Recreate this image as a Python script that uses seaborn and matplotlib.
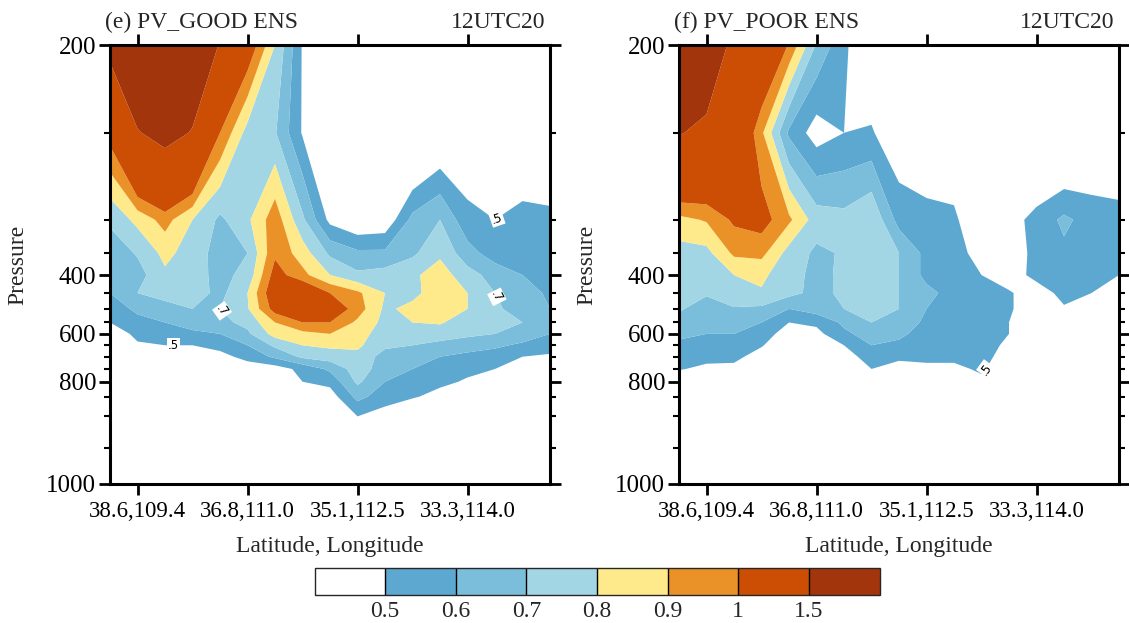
import numpy as np
import matplotlib
matplotlib.use("Agg")
import matplotlib.pyplot as plt
import matplotlib.ticker as mticker
from matplotlib.colors import ListedColormap, BoundaryNorm
from matplotlib.cm import ScalarMappable
import seaborn as sns

sns.set_theme(style="ticks")
plt.rcParams["font.family"] = ["Liberation Serif", "DejaVu Serif"]

# ---------------- data ----------------
pressure = [200, 250, 300, 350, 400, 450, 500, 550, 600, 650, 700, 750, 800, 850, 900, 950, 1000]
section_index = list(range(17))
tick_index = [1, 5, 9, 13]
tick_labels = ["38.6,109.4", "36.8,111.0", "35.1,112.5", "33.3,114.0"]
levels = [0.5, 0.6, 0.7, 0.8, 0.9, 1.0, 1.5]
level_labels = ["0.5", "0.6", "0.7", "0.8", "0.9", "1", "1.5"]
fill_colors = ["#ffffff", "#5ca8d0", "#7abedb", "#a3d6e4", "#feea8a", "#ea9228", "#cb4e04", "#a3350c"]

pv_good = [
    [1.61, 1.90, 1.90, 1.80, 1.48, 1.10, 0.80, 0.49, 0.30, 0.30, 0.30, 0.30, 0.30, 0.30, 0.30, 0.30, 0.30],
    [1.05, 1.48, 1.62, 1.48, 1.00, 0.76, 0.71, 0.49, 0.30, 0.30, 0.30, 0.25, 0.36, 0.40, 0.30, 0.39, 0.34],
    [0.72, 0.83, 0.94, 0.80, 0.68, 0.78, 0.96, 0.72, 0.47, 0.40, 0.42, 0.63, 0.70, 0.53, 0.50, 0.53, 0.53],
    [0.64, 0.71, 0.83, 0.75, 0.66, 0.70, 0.98, 0.85, 0.68, 0.62, 0.62, 0.68, 0.78, 0.64, 0.55, 0.58, 0.56],
    [0.62, 0.66, 0.78, 0.74, 0.67, 0.73, 1.05, 0.93, 0.80, 0.72, 0.74, 0.78, 0.85, 0.74, 0.66, 0.60, 0.57],
    [0.60, 0.70, 0.74, 0.75, 0.67, 0.80, 1.10, 1.15, 1.00, 0.92, 0.80, 0.77, 0.86, 0.80, 0.70, 0.65, 0.58],
    [0.55, 0.62, 0.66, 0.70, 0.70, 0.79, 1.05, 1.20, 1.10, 0.95, 0.78, 0.83, 0.86, 0.80, 0.72, 0.65, 0.60],
    [0.50, 0.57, 0.60, 0.64, 0.67, 0.73, 0.90, 1.00, 1.00, 0.88, 0.77, 0.80, 0.81, 0.75, 0.72, 0.70, 0.64],
    [0.45, 0.52, 0.56, 0.58, 0.60, 0.68, 0.84, 0.87, 0.90, 0.85, 0.74, 0.75, 0.75, 0.72, 0.70, 0.66, 0.60],
    [0.40, 0.49, 0.50, 0.50, 0.53, 0.60, 0.72, 0.80, 0.82, 0.82, 0.72, 0.70, 0.67, 0.65, 0.62, 0.58, 0.56],
    [0.35, 0.40, 0.45, 0.46, 0.47, 0.53, 0.62, 0.72, 0.75, 0.77, 0.66, 0.64, 0.60, 0.57, 0.55, 0.50, 0.48],
    [0.30, 0.35, 0.38, 0.40, 0.40, 0.45, 0.45, 0.53, 0.62, 0.75, 0.65, 0.60, 0.55, 0.52, 0.50, 0.45, 0.42],
    [0.30, 0.30, 0.30, 0.30, 0.30, 0.35, 0.40, 0.50, 0.53, 0.72, 0.60, 0.55, 0.52, 0.49, 0.45, 0.40, 0.40],
    [0.30, 0.30, 0.30, 0.30, 0.30, 0.30, 0.30, 0.40, 0.45, 0.63, 0.55, 0.51, 0.47, 0.42, 0.40, 0.35, 0.35],
    [0.30, 0.30, 0.30, 0.30, 0.30, 0.30, 0.30, 0.30, 0.35, 0.50, 0.45, 0.40, 0.35, 0.30, 0.30, 0.30, 0.30],
    [0.30, 0.30, 0.30, 0.30, 0.30, 0.30, 0.30, 0.30, 0.30, 0.30, 0.30, 0.30, 0.30, 0.30, 0.30, 0.30, 0.30],
    [0.30, 0.30, 0.30, 0.30, 0.30, 0.30, 0.30, 0.30, 0.30, 0.30, 0.30, 0.30, 0.30, 0.30, 0.30, 0.30, 0.30],
]

pv_poor = [
    [1.90, 1.80, 1.40, 1.20, 0.99, 0.69, 0.52, 0.40, 0.30, 0.30, 0.30, 0.30, 0.30, 0.30, 0.30, 0.30, 0.30],
    [1.52, 1.42, 1.20, 0.92, 0.58, 0.45, 0.50, 0.51, 0.42, 0.35, 0.40, 0.30, 0.30, 0.27, 0.28, 0.35, 0.33],
    [0.87, 0.91, 1.02, 1.05, 0.92, 0.75, 0.73, 0.79, 0.56, 0.55, 0.52, 0.40, 0.45, 0.54, 0.62, 0.56, 0.55],
    [0.76, 0.77, 0.92, 0.93, 0.76, 0.68, 0.71, 0.77, 0.70, 0.57, 0.55, 0.45, 0.40, 0.55, 0.58, 0.56, 0.55],
    [0.74, 0.75, 0.80, 0.82, 0.74, 0.67, 0.72, 0.77, 0.70, 0.57, 0.55, 0.50, 0.45, 0.53, 0.56, 0.56, 0.50],
    [0.72, 0.71, 0.78, 0.79, 0.73, 0.67, 0.72, 0.75, 0.70, 0.63, 0.56, 0.55, 0.51, 0.45, 0.53, 0.50, 0.45],
    [0.71, 0.66, 0.69, 0.68, 0.60, 0.65, 0.70, 0.72, 0.70, 0.60, 0.56, 0.55, 0.52, 0.40, 0.49, 0.45, 0.40],
    [0.67, 0.64, 0.63, 0.60, 0.50, 0.52, 0.62, 0.70, 0.66, 0.58, 0.55, 0.55, 0.50, 0.35, 0.35, 0.35, 0.35],
    [0.63, 0.60, 0.60, 0.55, 0.45, 0.47, 0.58, 0.64, 0.62, 0.56, 0.55, 0.55, 0.50, 0.30, 0.30, 0.30, 0.30],
    [0.57, 0.56, 0.58, 0.51, 0.40, 0.40, 0.50, 0.60, 0.58, 0.55, 0.55, 0.54, 0.48, 0.30, 0.30, 0.30, 0.30],
    [0.55, 0.54, 0.53, 0.45, 0.35, 0.35, 0.45, 0.55, 0.52, 0.52, 0.53, 0.53, 0.46, 0.30, 0.30, 0.30, 0.30],
    [0.51, 0.47, 0.47, 0.40, 0.30, 0.30, 0.40, 0.50, 0.46, 0.48, 0.47, 0.52, 0.40, 0.30, 0.30, 0.30, 0.30],
    [0.40, 0.40, 0.40, 0.35, 0.30, 0.30, 0.35, 0.42, 0.40, 0.42, 0.42, 0.47, 0.35, 0.30, 0.30, 0.30, 0.30],
    [0.30, 0.30, 0.30, 0.30, 0.30, 0.30, 0.30, 0.30, 0.30, 0.30, 0.30, 0.30, 0.30, 0.30, 0.30, 0.30, 0.30],
    [0.30, 0.30, 0.30, 0.30, 0.30, 0.30, 0.30, 0.30, 0.30, 0.30, 0.30, 0.30, 0.30, 0.30, 0.30, 0.30, 0.30],
    [0.30, 0.30, 0.30, 0.30, 0.30, 0.30, 0.30, 0.30, 0.30, 0.30, 0.30, 0.30, 0.30, 0.30, 0.30, 0.30, 0.30],
    [0.30, 0.30, 0.30, 0.30, 0.30, 0.30, 0.30, 0.30, 0.30, 0.30, 0.30, 0.30, 0.30, 0.30, 0.30, 0.30, 0.30],
]

panel_titles = ["(e) PV_GOOD ENS", "(f) PV_POOR ENS"]
time_label = "12UTC20"
# contour-line label anchors (section index, pressure)
label_spots = [
    [(2.3, 645), (4.0, 515), (14.1, 300), (13.7, 478)],
    [(11.35, 762)],
]

# ---------------- vertical axis scale (pressure -> axis fraction) ----------------
axis_p = np.array([200, 250, 300, 350, 400, 450, 500, 550, 600, 650, 700, 750, 800, 850, 900, 950, 1000], float)
axis_frac = np.array([0.0, 0.200, 0.398, 0.474, 0.524, 0.565, 0.601, 0.632, 0.658, 0.684,
                      0.710, 0.738, 0.767, 0.801, 0.846, 0.917, 1.0])


def fwd(p):
    return np.interp(p, axis_p, axis_frac)


def inv(f):
    return np.interp(f, axis_frac, axis_p)


W, H = 1129, 623
fig = plt.figure(figsize=(W / 100, H / 100), dpi=100)
fig.patch.set_facecolor("white")

ax_left_px = [110, 679]
ax_w_px = 440
ax_top_px, ax_bot_px = 45, 484

X, P = np.meshgrid(np.array(section_index, float), np.array(pressure, float))

for k, (data, title) in enumerate(zip([pv_good, pv_poor], panel_titles)):
    ax = fig.add_axes([ax_left_px[k] / W, (H - ax_bot_px) / H, ax_w_px / W,
                       (ax_bot_px - ax_top_px) / H])
    Z = np.array(data, float)
    ax.set_yscale("function", functions=(fwd, inv))
    ax.contourf(X, P, Z, levels=levels, colors=fill_colors, extend="both",
                antialiased=True)
    cs = ax.contour(X, P, Z, levels=[0.5, 0.7], colors="black", linewidths=0,
                    alpha=0.0)
    ax.set_xlim(0, 16)
    ax.set_ylim(1000, 200)

    try:
        txts = ax.clabel(cs, manual=label_spots[k], inline=False,
                         fmt=lambda v: ("%.1f" % v).lstrip("0"), fontsize=8.5)
        for t in txts:
            t.set_family("DejaVu Sans")
            t.set_color("black")
            t.set_alpha(1.0)
            t.set_bbox(dict(facecolor="white", edgecolor="none", pad=0.8))
    except Exception:
        pass

    ax.set_xticks(tick_index)
    ax.set_xticklabels(tick_labels)
    ax.yaxis.set_major_locator(mticker.FixedLocator([200, 400, 600, 800, 1000]))
    ax.yaxis.set_minor_locator(mticker.FixedLocator(
        [250, 300, 350, 450, 500, 550, 650, 700, 750, 850, 900, 950]))
    ax.yaxis.set_major_formatter(mticker.FuncFormatter(lambda v, pos: "%d" % round(v)))
    ax.yaxis.set_minor_formatter(mticker.NullFormatter())
    ax.xaxis.set_minor_locator(mticker.NullLocator())

    ax.tick_params(axis="both", which="both", direction="out", top=True, right=True,
                   labeltop=False, labelright=False, colors="black")
    ax.tick_params(axis="x", which="major", length=8, width=2, labelsize=16.5, pad=4)
    ax.tick_params(axis="y", which="major", length=8, width=2, labelsize=18, pad=2)
    ax.tick_params(axis="y", which="minor", length=4, width=1.5)
    for sp in ax.spines.values():
        sp.set_linewidth(2.2)
        sp.set_color("black")
        sp.set_visible(True)

    ax.set_xlabel("Latitude, Longitude", fontsize=17)
    ax.xaxis.set_label_coords(0.5, -0.118)
    ax.set_ylabel("Pressure", fontsize=17)
    ax.yaxis.set_label_coords(-0.185, 0.5)

    ax.text(-0.012, 1.038, title, transform=ax.transAxes, fontsize=17,
            ha="left", va="baseline")
    ax.text(0.99, 1.038, time_label, transform=ax.transAxes, fontsize=17,
            ha="right", va="baseline")

# ---------------- label bar ----------------
cax = fig.add_axes([314.5 / W, (H - 595) / H, 565 / W, 27 / H])
bounds = [0.4] + levels + [2.0]
cmap = ListedColormap(fill_colors)
norm = BoundaryNorm(bounds, cmap.N)
cb = fig.colorbar(ScalarMappable(norm=norm, cmap=cmap), cax=cax, orientation="horizontal",
                  spacing="uniform", drawedges=True, boundaries=bounds)
cb.set_ticks(levels)
cb.set_ticklabels(level_labels)
cb.ax.minorticks_off()
cb.ax.tick_params(which="both", length=0, labelsize=17, pad=4)
cb.outline.set_linewidth(1.0)
cb.dividers.set_linewidth(1.0)
cb.dividers.set_color("black")

fig.savefig("out.png", dpi=100, facecolor="white")
